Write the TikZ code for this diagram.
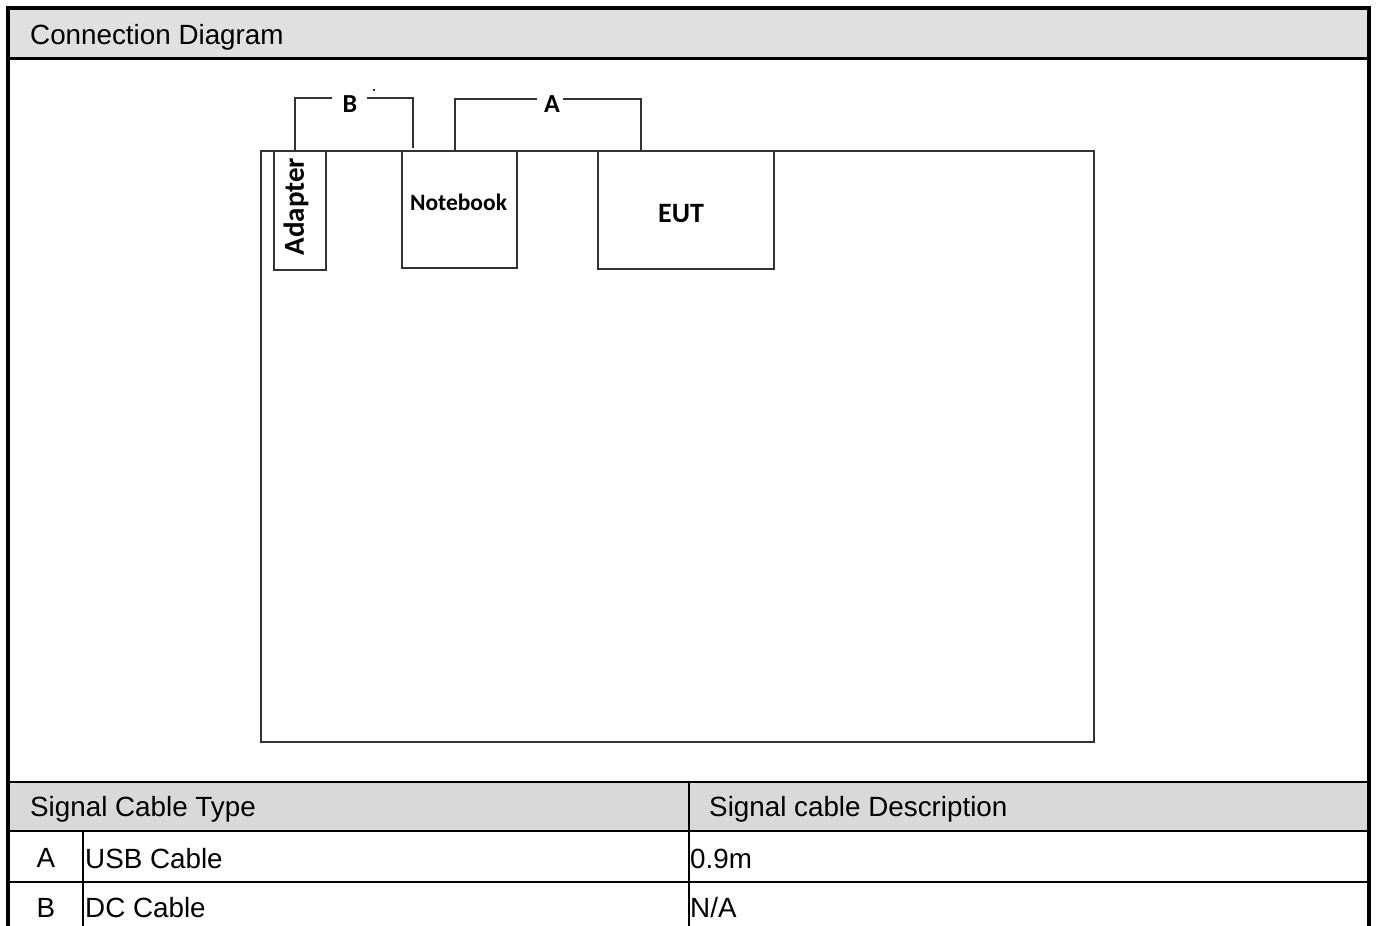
\documentclass[tikz,border=0pt]{standalone}
\usepackage{fontspec}
\setmainfont{Liberation Sans}
\newfontfamily\carlito{Carlito}
\definecolor{hdrA}{RGB}{224,224,224}
\definecolor{hdrB}{RGB}{217,217,217}
\definecolor{ln}{RGB}{50,50,50}
\begin{document}
\begin{tikzpicture}[x=1pt,y=-1pt,
  cell/.style={font=\fontsize{27.8}{30}\selectfont, anchor=west, inner sep=0pt},
  box/.style={draw=ln, line width=1.5pt, inner sep=0pt, fill=white},
  lbl/.style={font=\carlito\bfseries, inner sep=0pt},
  wire/.style={draw=ln, line width=1.5pt}]
\useasboundingbox (0,0) rectangle (1376,926);
\fill[white] (0,0) rectangle (1376,926);
% header fills
\fill[hdrA] (8,8) rectangle (1369,58.5);
\fill[hdrB] (8,782) rectangle (1369,831);
% table lines
\draw[line width=3pt] (8,58.5) -- (1369,58.5);
\draw[line width=2.5pt] (8,782) -- (1369,782);
\draw[line width=2.5pt] (8,831) -- (1369,831);
\draw[line width=2.5pt] (8,882) -- (1369,882);
\draw[line width=2.5pt] (689,782) -- (689,926);
\draw[line width=2.5pt] (83,831) -- (83,926);
% outer border
\draw[line width=4pt] (8,926) -- (8,7.5) -- (1369,7.5) -- (1369,926);
% texts
\node[cell] (title) at (30,37) {Connection Diagram};
\node[cell] (h1) at (30,809) {Signal Cable Type};
\node[cell] (h2) at (709,809) {Signal cable Description};
\node[cell, anchor=center] (ra) at (46,858) {A};
\node[cell] (ra1) at (85,858.5) {USB Cable};
\node[cell] (ra2) at (690,858.5) {0.9m};
\node[cell, anchor=center] (rb) at (46,908) {B};
\node[cell] (rb1) at (85,908) {DC Cable};
\node[cell] (rb2) at (690,908) {N/A};
% diagram
\node[box, minimum width=833pt, minimum height=591pt] (room) at (677.5,446.5) {};
\node[box, minimum width=52pt, minimum height=119pt] (adapter) at (300,210.5) {};
\node[box, minimum width=115pt, minimum height=117pt] (notebook) at (459.5,209.5) {};
\node[box, minimum width=176pt, minimum height=118pt] (eut) at (686,210) {};
\node[lbl, rotate=90, font=\carlito\bfseries\fontsize{29}{32}\selectfont] (tadapter) at (296,206.5) {Adapter};
\node[lbl, font=\carlito\bfseries\fontsize{23.5}{26}\selectfont] (tnotebook) at (458.5,202) {Notebook};
\node[lbl, font=\carlito\bfseries\fontsize{28}{30}\selectfont] (teut) at (681,214) {EUT};
% cable labels
\node[lbl, font=\carlito\bfseries\fontsize{26}{28}\selectfont] (labB) at (350,104) {B};
\node[lbl, font=\carlito\bfseries\fontsize{26}{28}\selectfont] (labA) at (552,104) {A};
\coordinate (b1) at (295,151);
\coordinate (b2) at (295,98);
\coordinate (b3) at (332,98);
\coordinate (b4) at (367,98);
\coordinate (b5) at (413,98);
\coordinate (b6) at (413,148);
\coordinate (a1) at (455,151);
\coordinate (a2) at (455,99);
\coordinate (a3) at (537,99);
\coordinate (a4) at (563,99);
\coordinate (a5) at (641,99);
\coordinate (a6) at (641,151);
\draw[wire] (b1) -- (b2) -- (b3);
\draw[wire] (b4) -- (b5) -- (b6);
\draw[wire] (a1) -- (a2) -- (a3);
\draw[wire] (a4) -- (a5) -- (a6);
\fill[ln] (373,89) rectangle (375,91);
\end{tikzpicture}
\end{document}
